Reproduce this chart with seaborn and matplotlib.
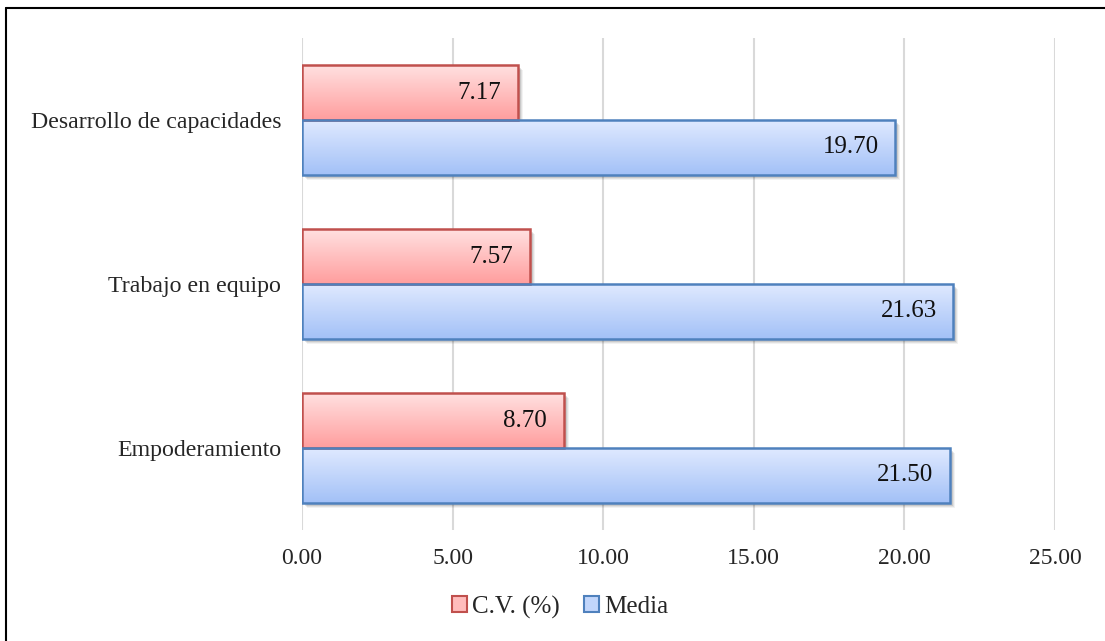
import numpy as np
import pandas as pd
import matplotlib
matplotlib.use("Agg")
import matplotlib.pyplot as plt
import seaborn as sns
from matplotlib.patches import Patch, Rectangle
from matplotlib.lines import Line2D
from matplotlib.colors import LinearSegmentedColormap
import matplotlib.transforms as mtransforms

# Dimension scores
categories = ["Desarrollo de capacidades", "Trabajo en equipo", "Empoderamiento"]
series_names = ["C.V. (%)", "Media"]
cv_values = [7.17, 7.57, 8.70]
media_values = [19.70, 21.63, 21.50]
x_ticks = [0, 5, 10, 15, 20, 25]

df = pd.DataFrame({
    "Dimensión": categories * 2,
    "Serie": [series_names[0]] * 3 + [series_names[1]] * 3,
    "Valor": cv_values + media_values,
})

sns.set_theme(style="white")
plt.rcParams["font.family"] = ["Liberation Serif", "DejaVu Serif"]

edge_colors = {series_names[0]: "#c0504d", series_names[1]: "#4f81bd"}
grad_colors = {
    series_names[0]: ("#ffe0e0", "#ff9e9e"),
    series_names[1]: ("#dfe9ff", "#a3c1f7"),
}
mid_colors = {series_names[0]: "#ffbcbc", series_names[1]: "#c2d6fb"}

fig = plt.figure(figsize=(11.05, 6.41), dpi=100)
ax = fig.add_axes([302 / 1105, 1 - 530 / 641, (1055 - 302) / 1105, (530 - 38) / 641])

sns.barplot(data=df, y="Dimensión", x="Valor", hue="Serie", hue_order=series_names,
            order=categories, orient="h", width=0.67, palette=mid_colors,
            legend=False, ax=ax, zorder=3)

ax.set_xlim(0, 25)
ax.set_ylim(2.5, -0.5)
ax.set_xticks(x_ticks)
ax.set_xticklabels([f"{v:.2f}" for v in x_ticks], fontsize=17)
ax.tick_params(axis="x", length=0, pad=13)
ax.tick_params(axis="y", length=0, pad=15, labelsize=17.2)
ax.set_xlabel("")
ax.set_ylabel("")
for s in ax.spines.values():
    s.set_visible(False)
ax.grid(axis="x", color="#d9d9d9", linewidth=1.5, zorder=0)
ax.set_axisbelow(True)

# gradient fill, soft shadow and value label for each bar
bars_by_series = [ax.containers[0], ax.containers[1]]
for name, cont, vals in zip(series_names, bars_by_series, [cv_values, media_values]):
    cmap = LinearSegmentedColormap.from_list(name, list(grad_colors[name]))
    for patch, v in zip(cont.patches, vals):
        x0, y0 = patch.get_x(), patch.get_y()
        w, h = patch.get_width(), patch.get_height()
        # shadow layers
        for dx, dy, a in [(3, -3, 0.10), (4, -4, 0.07), (5, -5, 0.05)]:
            tr = mtransforms.offset_copy(ax.transData, fig=fig, x=dx, y=dy, units="dots")
            ax.add_patch(Rectangle((x0, y0), w, h, transform=tr, facecolor="#000000",
                                   edgecolor="none", alpha=a, zorder=1.5))
        grad = np.linspace(0, 1, 64).reshape(-1, 1)
        im = ax.imshow(grad, cmap=cmap, aspect="auto",
                       extent=(x0, x0 + w, y0 + h, y0), origin="upper", zorder=2.5)
        im.set_clip_path(patch)
        patch.set_facecolor("none")
        patch.set_edgecolor(edge_colors[name])
        patch.set_linewidth(1.8)
        ax.text(x0 + w - 0.56, y0 + h / 2, f"{v:.2f}", ha="right", va="center",
                fontsize=18, color="#111111", zorder=4)

ax.set_xlim(0, 25)
ax.set_ylim(2.5, -0.5)

handles = [Patch(facecolor=mid_colors[n], edgecolor=edge_colors[n], linewidth=1.5)
           for n in series_names]
fig.legend(handles, series_names, loc="center", bbox_to_anchor=(560 / 1105, 1 - 607 / 641),
           ncol=2, frameon=False, fontsize=18, handlelength=0.6, handleheight=0.6,
           handletextpad=0.2, columnspacing=1.0)

# outer frame edges
fig.add_artist(Line2D([6 / 1105, 1.0], [1 - 8 / 641, 1 - 8 / 641], color="black",
                      linewidth=1.5, transform=fig.transFigure))
fig.add_artist(Line2D([6 / 1105, 6 / 1105], [0, 1 - 8 / 641], color="black",
                      linewidth=1.5, transform=fig.transFigure))

fig.savefig("out.png", dpi=100)
